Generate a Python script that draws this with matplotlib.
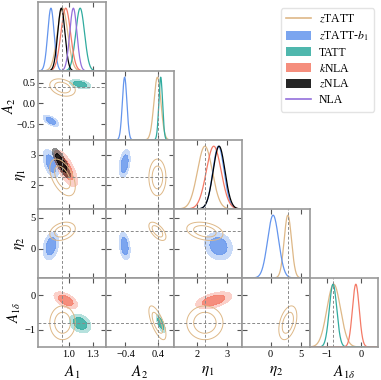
import numpy as np
import matplotlib
matplotlib.use("Agg")
import matplotlib.pyplot as plt
from matplotlib.lines import Line2D
from matplotlib.patches import Patch

plt.rcParams['font.family'] = 'serif'
plt.rcParams['font.serif'] = ['Liberation Serif', 'DejaVu Serif']
plt.rcParams['mathtext.fontset'] = 'stix'

# ── Parámetros y ejes ────────────────────────────────────────────────
param_labels = [r'$A_1$', r'$A_2$', r'$\eta_1$', r'$\eta_2$', r'$A_{1\delta}$']
limits = [(0.61, 1.46), (-0.88, 0.78), (1.2, 3.5), (-4.7, 6.4), (-1.5, 0.5)]
xticks = [[1.0, 1.3], [-0.4, 0.4], [2, 3], [0, 5], [-1, 0]]
yticks = [[1.0, 1.3], [-0.5, 0.0, 0.5], [2, 3], [0, 5], [-1, 0]]
xticklabels = [['1.0', '1.3'], ['−0.4', '0.4'], ['2', '3'], ['0', '5'], ['−1', '0']]
yticklabels = [['1.0', '1.3'], ['−0.5', '0.0', '0.5'], ['2', '3'], ['0', '5'], ['−1', '0']]
fiducial = [0.91, 0.39, 2.26, 2.9, -0.81]

# ── Modelos (nan = parámetro no muestreado) ──────────────────────────
models = ['zTATT', 'zTATT-b1', 'TATT', 'kNLA', 'zNLA', 'NLA']
model_labels = [r'$z$TATT', r'$z$TATT-$b_1$', 'TATT', r'$k$NLA', r'$z$NLA', 'NLA']
colors = ['#deb887', '#6495ed', '#30ab9f', '#f47a66', '#000000', '#9370db']
filled = [False, True, True, True, True, False]

#               A1     A2     eta1   eta2    A1d
ztatt_mean  = [0.92,  0.38,  2.25,  2.8,   -0.80]
ztatt_sigma = [0.065, 0.085, 0.25,  0.6,    0.20]
b1_mean     = [0.775, -0.42, 2.71,  0.4,   np.nan]
b1_sigma    = [0.04,  0.055, 0.19,  0.9,   np.nan]
tatt_mean   = [1.14,  0.46,  np.nan, np.nan, -0.82]
tatt_sigma  = [0.055, 0.045, np.nan, np.nan, 0.11]
knla_mean   = [0.96,  np.nan, 2.55,  np.nan, -0.15]
knla_sigma  = [0.06,  np.nan, 0.25,  np.nan, 0.10]
znla_mean   = [0.905, np.nan, 2.73,  np.nan, np.nan]
znla_sigma  = [0.045, np.nan, 0.20,  np.nan, np.nan]
nla_mean    = [1.055, np.nan, np.nan, np.nan, np.nan]
nla_sigma   = [0.045, np.nan, np.nan, np.nan, np.nan]

# correlaciones (fila, columna)
ztatt_corr = {(1, 0): -0.3, (2, 0): -0.5, (3, 0): 0.3, (4, 0): 0.0,
              (2, 1): 0.0, (3, 1): -0.6, (4, 1): -0.7,
              (3, 2): -0.3, (4, 2): 0.0, (4, 3): 0.4}
b1_corr = {(1, 0): -0.6, (2, 0): -0.5, (3, 0): 0.3,
           (2, 1): 0.35, (3, 1): -0.3, (3, 2): -0.15}
tatt_corr = {(1, 0): -0.4, (4, 0): -0.3, (4, 1): -0.7}
knla_corr = {(2, 0): -0.7, (4, 0): -0.55, (4, 2): 0.5}
znla_corr = {(2, 0): -0.8}
nla_corr = {}

means = [ztatt_mean, b1_mean, tatt_mean, knla_mean, znla_mean, nla_mean]
sigmas = [ztatt_sigma, b1_sigma, tatt_sigma, knla_sigma, znla_sigma, nla_sigma]
corrs = [ztatt_corr, b1_corr, tatt_corr, knla_corr, znla_corr, nla_corr]

n = len(param_labels)
spine_color = '#999999'
dash_color = '#8a8a8a'
ylabel_x = [None, -0.29, -0.15, -0.16, -0.21]  # posición de las etiquetas y

fig, axes = plt.subplots(n, n, figsize=(3.81, 3.80), dpi=100)
fig.subplots_adjust(left=0.099, right=0.992, top=0.995, bottom=0.087,
                    wspace=0, hspace=0)

for i in range(n):
    for j in range(n):
        ax = axes[i, j]
        if j > i:
            ax.axis('off')
            continue
        for s in ax.spines.values():
            s.set_color(spine_color)
            s.set_linewidth(1.2)
        ax.set_xlim(limits[j])
        ax.tick_params(direction='in', length=3.5, width=0.8, color='#555555',
                       labelsize=7.5, pad=2, top=True, right=(i != j))
        ax.tick_params(axis='y', pad=1.5)
        ax.set_xticks(xticks[j])
        if i == n - 1:
            ax.set_xticklabels(xticklabels[j])
            ax.set_xlabel(param_labels[j], fontsize=11, labelpad=4)
        else:
            ax.set_xticklabels([])

        if i == j:
            # ── 1D ──
            xs = np.linspace(*limits[j], 400)
            for k in range(len(models)):
                m, s = means[k][j], sigmas[k][j]
                if np.isnan(m):
                    continue
                ax.plot(xs, np.exp(-0.5 * ((xs - m) / s) ** 2),
                        color=colors[k], lw=0.9)
            ax.set_ylim(0, 1.1)
            ax.set_yticks([])
            ax.axvline(fiducial[j], color=dash_color, lw=0.7, ls=(0, (3, 2)))
            continue

        # ── 2D ──
        ax.set_ylim(limits[i])
        ax.set_yticks(yticks[i])
        if j == 0:
            ax.set_yticklabels(yticklabels[i])
            ax.set_ylabel(param_labels[i], fontsize=10.5)
            ax.yaxis.set_label_coords(ylabel_x[i], 0.5)
        else:
            ax.set_yticklabels([])

        gx = np.linspace(*limits[j], 220)
        gy = np.linspace(*limits[i], 220)
        X, Y = np.meshgrid(gx, gy)
        for k in range(len(models)):
            mx, my = means[k][j], means[k][i]
            if np.isnan(mx) or np.isnan(my):
                continue
            sx, sy = sigmas[k][j], sigmas[k][i]
            r = corrs[k].get((i, j), 0.0)
            u, v = (X - mx) / sx, (Y - my) / sy
            d2 = (u ** 2 - 2 * r * u * v + v ** 2) / (1 - r ** 2)
            if filled[k]:
                a_out = 0.45 if models[k] == 'zNLA' else 0.35
                ax.contourf(X, Y, d2, levels=[2.30, 5.99], colors=[colors[k]],
                            alpha=a_out, zorder=2 + k)
                ax.contourf(X, Y, d2, levels=[0, 2.30], colors=[colors[k]],
                            alpha=0.85, zorder=2 + k)
            else:
                ax.contour(X, Y, d2, levels=[2.30, 5.99], colors=[colors[k]],
                           linewidths=0.7, zorder=10)
        ax.axvline(fiducial[j], color=dash_color, lw=0.7, ls=(0, (3, 2)), zorder=12)
        ax.axhline(fiducial[i], color=dash_color, lw=0.7, ls=(0, (3, 2)), zorder=12)

# ── Leyenda ──
handles = []
for k in range(len(models)):
    if filled[k]:
        handles.append(Patch(facecolor=colors[k], alpha=0.85, edgecolor='none'))
    else:
        handles.append(Line2D([0], [0], color=colors[k], lw=1.2))
fig.legend(handles, model_labels, loc='upper right', bbox_to_anchor=(0.997, 0.994),
           fontsize=8.5, frameon=True, edgecolor='#dddddd', handlelength=2.1,
           handleheight=0.8, labelspacing=0.32, borderpad=0.45, handletextpad=0.7)

fig.savefig('out.png', dpi=100)
